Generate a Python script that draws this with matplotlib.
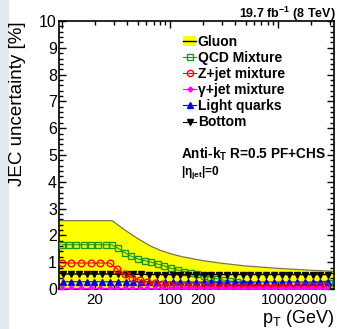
import matplotlib
matplotlib.use("Agg")
import matplotlib.pyplot as plt
from matplotlib.patches import Patch, Rectangle
from matplotlib.lines import Line2D
from matplotlib.ticker import LogLocator, FuncFormatter, MultipleLocator

plt.rcParams['font.family'] = ['Liberation Sans', 'DejaVu Sans']
plt.rcParams['mathtext.fontset'] = 'custom'
plt.rcParams['mathtext.rm'] = 'Liberation Sans'
plt.rcParams['mathtext.bf'] = 'Liberation Sans:bold'
plt.rcParams['mathtext.it'] = 'Liberation Sans:italic'
plt.rcParams['mathtext.default'] = 'regular'

# gluon band (upper edge)
pt_glu = [9, 29, 33, 38, 45, 55, 66, 80, 100, 130, 200, 300, 500, 1000, 2000, 3300]
glu = [2.55, 2.55, 2.38, 2.2, 2.0, 1.78, 1.6, 1.45, 1.32, 1.2, 1.06, 0.96, 0.86, 0.77, 0.70, 0.66]

# QCD mixture
pt_qcd = [9.9, 11.6, 13.5, 15.8, 18.5, 21.6, 25.3, 29.0, 32.9, 37.9, 43.6, 50.2, 57.8,
          66.5, 76.5, 88, 101, 117, 134, 155, 178, 205, 236, 271, 312, 359, 413, 476,
          548, 630, 726, 835, 961, 1106, 1273, 1465, 1687, 1941, 2234, 2572, 2960]
qcd = [1.65, 1.65, 1.65, 1.65, 1.65, 1.65, 1.65, 1.64, 1.52, 1.36, 1.22, 1.12, 1.06,
       1.00, 0.93, 0.86, 0.78, 0.71, 0.65, 0.60, 0.56, 0.49, 0.44, 0.38, 0.33, 0.30,
       0.25, 0.20, 0.14, 0.08, 0.03, -0.04, -0.08, -0.06, -0.02, 0.02, 0.06, 0.10,
       0.14, 0.18, 0.22]

# Z+jet mixture / gamma+jet mixture
pt_z = [9.9, 12.1, 14.9, 18.3, 22.4, 27.5, 32.3, 37.9, 44.4, 52.1, 61.1, 71.7, 84.1,
        98.6, 116, 136, 159, 187, 219, 257, 301, 353, 414, 486, 570, 669, 784, 920,
        1079, 1266, 1485, 1742, 2043, 2397, 2811]
zjet = [0.97, 0.97, 0.97, 0.97, 0.97, 0.97, 0.74, 0.55, 0.42, 0.33, 0.26, 0.21, 0.17,
        0.15, 0.13, 0.12, 0.11, 0.10, 0.10, 0.09, 0.09, 0.09, 0.09, 0.09, 0.09, 0.09,
        0.09, 0.09, 0.09, 0.09, 0.10, 0.10, 0.10, 0.10, 0.10]
gjet = [0.04, 0.04, 0.04, 0.04, 0.04, 0.04, 0.04, 0.04, 0.04, 0.04, 0.04, 0.04, 0.04,
        0.04, 0.04, 0.04, 0.04, 0.04, 0.04, 0.04, 0.04, 0.04, 0.04, 0.04, 0.04, 0.04,
        0.04, 0.04, 0.04, 0.04, 0.04, 0.04, 0.04, 0.04, 0.04]

# light quarks / bottom
pt_q = [10.2, 12.0, 14.2, 16.8, 19.8, 23.4, 27.7, 32.7, 38.6, 45.6, 53.8, 63.6, 75.1,
        88.7, 105, 124, 146, 173, 204, 241, 284, 336, 397, 468, 553, 653, 772, 911,
        1076, 1271, 1501, 1773, 2094, 2473, 2920]
light = [0.27, 0.27, 0.27, 0.27, 0.27, 0.27, 0.27, 0.27, 0.27, 0.27, 0.27, 0.26, 0.26,
         0.26, 0.26, 0.26, 0.26, 0.26, 0.26, 0.26, 0.26, 0.26, 0.26, 0.26, 0.26, 0.26,
         0.26, 0.26, 0.26, 0.26, 0.26, 0.26, 0.26, 0.26, 0.26]
bottom = [0.56, 0.56, 0.56, 0.56, 0.56, 0.56, 0.56, 0.55, 0.55, 0.55, 0.55, 0.54, 0.54,
          0.54, 0.54, 0.54, 0.54, 0.54, 0.54, 0.54, 0.54, 0.54, 0.54, 0.54, 0.54, 0.54,
          0.54, 0.54, 0.54, 0.54, 0.54, 0.54, 0.54, 0.54, 0.54]

labels = ["Gluon", "QCD Mixture", "Z+jet mixture", "γ+jet mixture", "Light quarks", "Bottom"]

GREEN = '#1a9a1a'

fig = plt.figure(figsize=(3.38, 3.29), dpi=100)
fig.patches.append(Rectangle((0, 0), 8 / 338, 1, transform=fig.transFigure,
                             color='#e4eaf2', zorder=-1))
ax = fig.add_axes([59 / 338, 40 / 329, 275 / 338, 268 / 329])

ax.fill_between(pt_glu, 0, glu, color='#ffff00', lw=0, zorder=1)
ax.plot(pt_glu, glu, color='#777744', lw=0.9, zorder=2)
ax.plot(pt_qcd, qcd, color=GREEN, lw=0.8, marker='s', ms=4.8, mfc='none', mec=GREEN, mew=1.0, zorder=3)
ax.plot(pt_q, bottom, color='k', lw=1.0, marker='v', ms=4.3, zorder=4)
ax.plot(pt_q, light, color='#0000ff', lw=0.8, marker='^', ms=4.3, zorder=5)
ax.plot(pt_z, zjet, color='#ff0000', lw=0.8, marker='o', ms=4.8, mfc='none', mec='#ff0000', mew=1.0, zorder=6)
ax.plot(pt_z, gjet, color='#ff00ff', lw=0.8, marker='D', ms=2.6, zorder=7)

ax.set_xscale('log')
ax.set_xlim(9.3, 3300)
ax.set_ylim(0, 10)

ax.yaxis.set_major_locator(MultipleLocator(1))
ax.yaxis.set_minor_locator(MultipleLocator(0.2))
ax.xaxis.set_major_locator(LogLocator(base=10, numticks=10))
ax.xaxis.set_minor_locator(LogLocator(base=10, subs=range(2, 10), numticks=20))
ax.xaxis.set_major_formatter(FuncFormatter(lambda v, p: f'{v:g}' if v > 50 else ''))
ax.xaxis.set_minor_formatter(FuncFormatter(lambda v, p: f'{v:g}' if round(v) in (20, 200, 2000) else ''))
ax.tick_params(which='both', direction='in', top=True, right=True, width=1)
ax.tick_params(axis='y', which='both', labelsize=11.5, pad=1.5)
ax.tick_params(axis='x', which='both', labelsize=10.8, pad=3)
ax.tick_params(which='major', length=5)
ax.tick_params(which='minor', length=2.8)
for s in ax.spines.values():
    s.set_linewidth(1.2)

ax.set_ylabel('JEC uncertainty [%]', loc='top', fontsize=13.5)
ax.yaxis.set_label_coords(-0.12, 1.0)
ax.set_xlabel('p$_{T}$ (GeV)', loc='right', fontsize=13)
ax.xaxis.set_label_coords(1.0, -0.071)

fig.text(336 / 338, 1 - 18 / 329, r'19.7 fb$^{\mathbf{-1}}$ (8 TeV)', ha='right', va='baseline',
         fontsize=9, fontweight='bold')
fig.text(181 / 338, 1 - 159 / 329, r'Anti-k$_{\mathbf{T}}$ R=0.5 PF+CHS', ha='left', va='baseline',
         fontsize=9.8, fontweight='bold')
fig.text(181 / 338, 1 - 175 / 329, r'|η$_{\mathbf{jet}}$|=0', ha='left', va='baseline',
         fontsize=8.5, fontweight='bold')

handles = [
    (Patch(fc='#ffff00', ec='none'), Line2D([], [], color='k', lw=1)),
    Line2D([], [], color=GREEN, lw=0.8, marker='s', ms=4.5, mfc='none', mec=GREEN),
    Line2D([], [], color='#ff0000', lw=0.8, marker='o', ms=4.5, mfc='none', mec='#ff0000'),
    Line2D([], [], color='#ff00ff', lw=0.8, marker='D', ms=2.5),
    Line2D([], [], color='#0000ff', lw=0.8, marker='^', ms=4),
    Line2D([], [], color='k', lw=0.8, marker='v', ms=4),
]
ax.legend(handles, labels, loc='upper left', bbox_to_anchor=(183 / 338, 1 - 35 / 329),
          bbox_transform=fig.transFigure, frameon=False, prop={'weight': 'bold', 'size': 10},
          handlelength=0.95, handletextpad=0.12, labelspacing=0.15, borderpad=0,
          borderaxespad=0, handleheight=0.7, numpoints=1)

fig.savefig('out.png', dpi=100)
